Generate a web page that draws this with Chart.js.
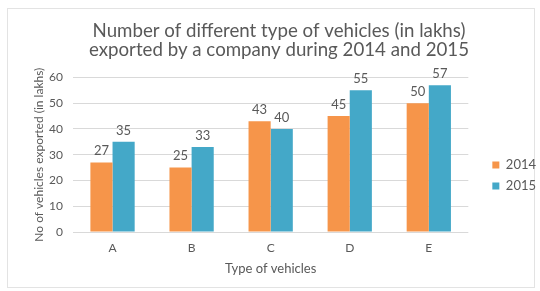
<!DOCTYPE html>
<html>
<head>
<meta charset="utf-8">
<script src="https://cdn.jsdelivr.net/npm/chart.js@4"></script>
<style>
  html, body { margin: 0; padding: 0; background: #fff; }
  #wrap { width: 540px; height: 291px; }
</style>
</head>
<body>
<div id="wrap"><canvas id="vehChart" width="540" height="291"></canvas></div>
<script>
const categories = ['A', 'B', 'C', 'D', 'E'];
const series2014 = [27, 25, 43, 45, 50];
const series2015 = [35, 33, 40, 55, 57];
const yTicks = [0, 10, 20, 30, 40, 50, 60];

const textGray = '#595959';
const fontName = 'Lato, "Open Sans", sans-serif';

// white background + faint frame round the chart
const frame = {
    id: 'frame',
    beforeDraw(chart) {
        const c = chart.ctx;
        c.save();
        c.fillStyle = '#fff';
        c.fillRect(0, 0, chart.width, chart.height);
        c.strokeStyle = '#e3e3e3';
        c.lineWidth = 1;
        c.strokeRect(7.5, 8.5, 527, 279);
        c.restore();
    }
};

// values printed over each bar
const barValues = {
    id: 'barValues',
    afterDatasetsDraw(chart) {
        const c = chart.ctx;
        c.save();
        c.fillStyle = textGray;
        c.font = '13px ' + fontName;
        c.textAlign = 'center';
        c.textBaseline = 'bottom';
        chart.data.datasets.forEach((ds, i) => {
            chart.getDatasetMeta(i).data.forEach((bar, j) => {
                c.fillText(ds.data[j], bar.x, bar.y - 5);
            });
        });
        c.restore();
    }
};

// legend sits lower and further right than chart.js puts it
const nudgeLegend = {
    id: 'nudgeLegend',
    afterLayout(chart) {
        const lg = chart.legend;
        const dx = 16, dy = 35;
        lg.left += dx; lg.right += dx;
        lg.top += dy; lg.bottom += dy;
    }
};

new Chart(document.getElementById('vehChart').getContext('2d'), {
    type: 'bar',
    data: {
        labels: categories,
        datasets: [
            { label: '2014', data: series2014, backgroundColor: '#F6954A' },
            { label: '2015', data: series2015, backgroundColor: '#44A8C8' }
        ]
    },
    options: {
        responsive: false,
        animation: false,
        layout: { padding: { left: 28, right: 10, top: 0, bottom: 10 } },
        datasets: {
            bar: { categoryPercentage: 0.56, barPercentage: 1.0 }
        },
        plugins: {
            title: {
                display: true,
                text: ['Number of different type of vehicles (in lakhs)', 'exported by a company during 2014 and 2015'],
                color: textGray,
                font: { family: fontName, size: 18.7, weight: 'normal', lineHeight: 1.0 },
                padding: { top: 22, bottom: 18 }
            },
            legend: {
                position: 'right',
                labels: {
                    color: textGray,
                    font: { family: fontName, size: 13 },
                    boxWidth: 7,
                    boxHeight: 7,
                    padding: 8
                }
            },
            tooltip: { enabled: false }
        },
        scales: {
            x: {
                grid: { display: false },
                border: { display: false },
                ticks: { color: textGray, font: { family: fontName, size: 12 }, padding: 1 },
                title: {
                    display: true,
                    text: 'Type of vehicles',
                    color: textGray,
                    font: { family: fontName, size: 13 },
                    padding: { top: 5, bottom: 4 }
                }
            },
            y: {
                min: 0,
                max: 60,
                afterBuildTicks: axis => { axis.ticks = yTicks.map(v => ({ value: v })); },
                afterFit: axis => { axis.width = 45; },
                grid: { color: '#d9d9d9', drawTicks: false },
                border: { display: false },
                ticks: { color: textGray, font: { family: fontName, size: 12 }, padding: 10 },
                title: {
                    display: true,
                    text: 'No of vehicles exported (in lakhs)',
                    color: textGray,
                    font: { family: fontName, size: 12 },
                    padding: { top: 4, bottom: 4 }
                }
            }
        }
    },
    plugins: [frame, barValues, nudgeLegend]
});
</script>
</body>
</html>
